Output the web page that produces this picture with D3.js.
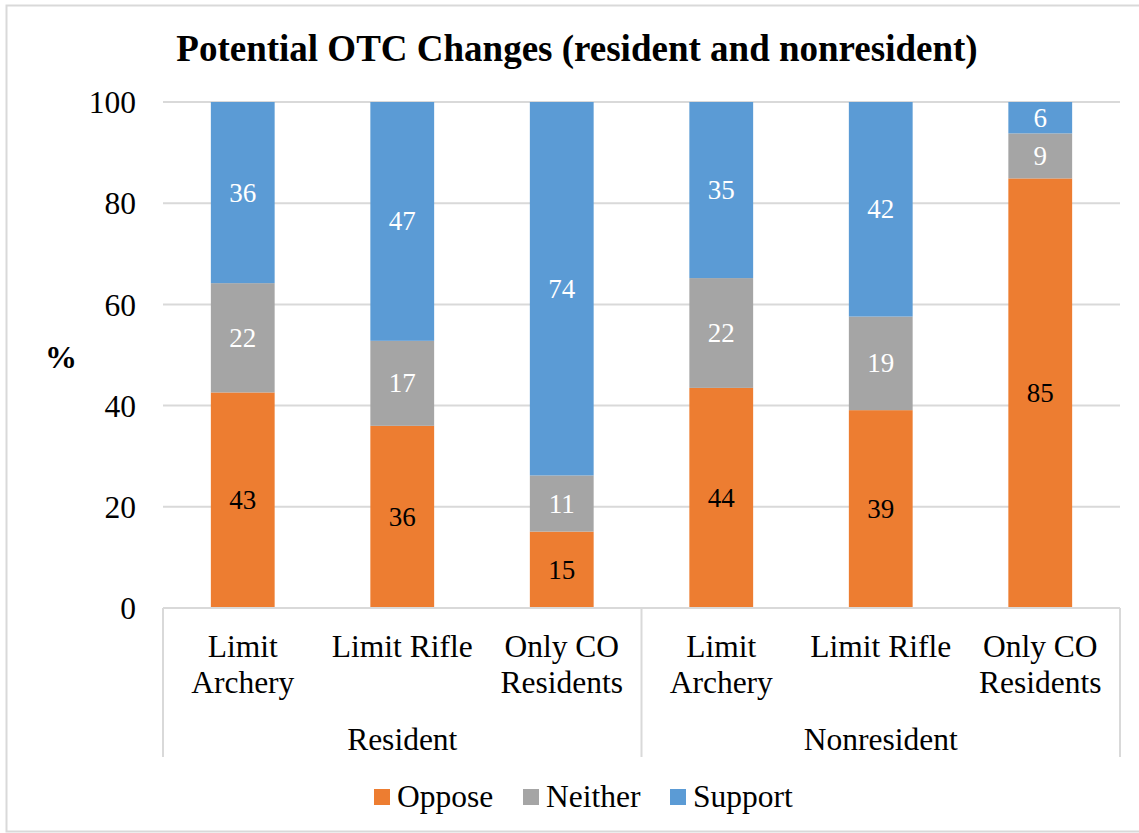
<!DOCTYPE html>
<html>
<head>
<meta charset="utf-8">
<script src="https://cdn.jsdelivr.net/npm/d3@7"></script>
<style>
  body { margin: 0; background: #fff; }
</style>
</head>
<body>
<div id="chart"></div>
<script>
// data
var groups = ["Resident", "Nonresident"];
var items = ["Limit Archery", "Limit Rifle", "Only CO Residents"];
var itemLines = [["Limit", "Archery"], ["Limit Rifle"], ["Only CO", "Residents"]];
var seriesNames = ["Oppose", "Neither", "Support"];
var oppose  = [42.6, 36.0, 15.1, 43.5, 39.1, 84.9];
var neither = [21.6, 16.8, 11.1, 21.7, 18.5, 8.9];
var support = [35.8, 47.2, 73.8, 34.8, 42.4, 6.2];
var colors = ["#ed7d31", "#a5a5a5", "#5b9bd5"];
var labelColors = ["#000", "#fff", "#fff"];
var yTicks = [0, 20, 40, 60, 80, 100];

var FONT = "'Liberation Serif', 'Times New Roman', Times, serif";

var W = 1139, H = 833;
var margin = {top: 102, left: 163, right: 19, bottom: 225};
var width = W - margin.left - margin.right,
    height = H - margin.top - margin.bottom;

var svg = d3.select("#chart").append("svg")
  .attr("width", W)
  .attr("height", H)
  .attr("font-family", FONT);

// outer border
svg.append("rect")
  .attr("x", 6.5).attr("y", 5.5)
  .attr("width", W).attr("height", H - 7)
  .attr("fill", "none").attr("stroke", "#d9d9d9").attr("stroke-width", 2);

svg.append("text")
  .attr("x", 577).attr("y", 61)
  .attr("text-anchor", "middle")
  .attr("font-size", 37).attr("font-weight", "bold")
  .text("Potential OTC Changes (resident and nonresident)");

var g = svg.append("g")
  .attr("transform", "translate(" + margin.left + "," + margin.top + ")");

// build rows
var rows = [];
groups.forEach(function(gr, gi) {
  items.forEach(function(it, ii) {
    var k = gi * items.length + ii;
    rows.push({key: gr + "|" + it, group: gr, item: ii, Oppose: oppose[k], Neither: neither[k], Support: support[k]});
  });
});

var x = d3.scaleBand()
  .domain(rows.map(function(d) { return d.key; }))
  .range([0, width])
  .paddingInner(0.6).paddingOuter(0.3);

var y = d3.scaleLinear().domain([0, 100]).range([height, 0]);

// gridlines
g.selectAll("line.grid")
  .data(yTicks.filter(function(t) { return t > 0; }))
  .enter().append("line")
  .attr("class", "grid")
  .attr("x1", 0).attr("x2", width)
  .attr("y1", function(d) { return y(d); }).attr("y2", function(d) { return y(d); })
  .attr("stroke", "#d9d9d9").attr("stroke-width", 2);

// y axis labels
var yAxis = d3.axisLeft(y).tickValues(yTicks).tickSize(0).tickPadding(27);
g.append("g").attr("class", "axis y")
  .call(yAxis)
  .attr("font-family", FONT)
  .call(function(a) { a.select(".domain").remove(); })
  .selectAll("text")
  .attr("font-size", 31.5).attr("fill", "#000")
  .attr("dy", "0.34em");

svg.append("text")
  .attr("x", 61).attr("y", 368)
  .attr("text-anchor", "middle")
  .attr("font-size", 32).attr("font-weight", "bold")
  .text("%");

// stacked bars
var stack = d3.stack().keys(seriesNames);
var layers = stack(rows);

var layerG = g.selectAll("g.layer")
  .data(layers)
  .enter().append("g")
  .attr("class", "layer")
  .attr("fill", function(d, i) { return colors[i]; });

layerG.selectAll("rect")
  .data(function(d) { return d; })
  .enter().append("rect")
  .attr("x", function(d) { return x(d.data.key); })
  .attr("width", x.bandwidth())
  .attr("y", function(d) { return y(d[1]); })
  .attr("height", function(d) { return y(d[0]) - y(d[1]); });

layerG.selectAll("text")
  .data(function(d, i) { return d.map(function(p) { return {p: p, i: i}; }); })
  .enter().append("text")
  .attr("x", function(d) { return x(d.p.data.key) + x.bandwidth() / 2; })
  .attr("y", function(d) { return (y(d.p[0]) + y(d.p[1])) / 2 + 9; })
  .attr("text-anchor", "middle")
  .attr("font-size", 27)
  .attr("fill", function(d) { return labelColors[d.i]; })
  .text(function(d) { return Math.round(d.p.data[seriesNames[d.i]]); });

// category axis lines
var axisColor = "#d9d9d9";
g.append("line")
  .attr("x1", 0).attr("x2", width)
  .attr("y1", height).attr("y2", height)
  .attr("stroke", axisColor).attr("stroke-width", 2);

var groupW = width / groups.length;
d3.range(groups.length + 1).forEach(function(i) {
  g.append("line")
    .attr("x1", i * groupW).attr("x2", i * groupW)
    .attr("y1", height).attr("y2", height + 149)
    .attr("stroke", axisColor).attr("stroke-width", 2);
});

// item labels
var itemLabel = g.selectAll("text.item")
  .data(rows)
  .enter().append("text")
  .attr("class", "item")
  .attr("text-anchor", "middle")
  .attr("font-size", 31.5)
  .attr("transform", function(d) { return "translate(" + (x(d.key) + x.bandwidth() / 2) + "," + (height + 49) + ")"; });

itemLabel.selectAll("tspan")
  .data(function(d) { return itemLines[d.item]; })
  .enter().append("tspan")
  .attr("x", 0)
  .attr("dy", function(d, i) { return i === 0 ? 0 : 36; })
  .text(function(d) { return d; });

// group labels
g.selectAll("text.group")
  .data(groups)
  .enter().append("text")
  .attr("class", "group")
  .attr("text-anchor", "middle")
  .attr("font-size", 31.5)
  .attr("x", function(d, i) { return (i + 0.5) * groupW; })
  .attr("y", height + 142)
  .text(function(d) { return d; });

// legend
var legendX = [374, 523, 670];
var legend = svg.selectAll("g.legend")
  .data(seriesNames)
  .enter().append("g")
  .attr("class", "legend")
  .attr("transform", function(d, i) { return "translate(" + legendX[i] + ",789)"; });

legend.append("rect")
  .attr("width", 16).attr("height", 16)
  .attr("fill", function(d, i) { return colors[i]; });

legend.append("text")
  .attr("x", 23).attr("y", 18)
  .attr("font-size", 31.5)
  .text(function(d) { return d; });
</script>
</body>
</html>
